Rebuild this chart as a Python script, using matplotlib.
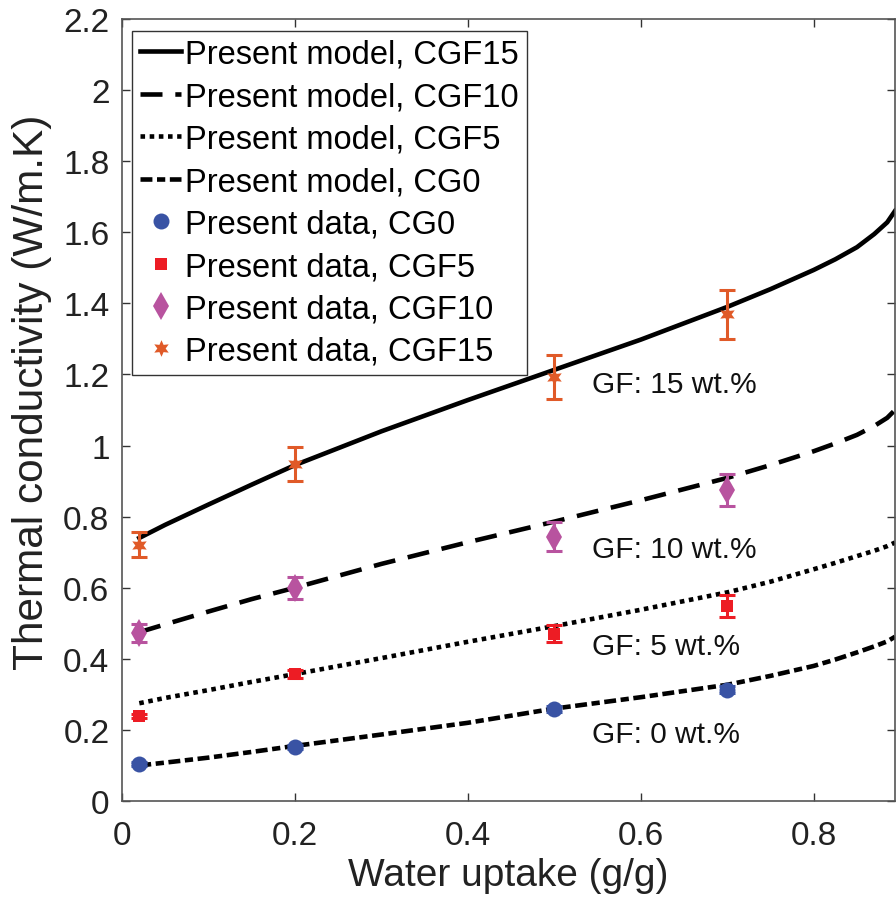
import matplotlib
matplotlib.use('Agg')
import matplotlib.pyplot as plt

plt.rcParams['font.family'] = ['Liberation Sans', 'DejaVu Sans']

# ---------- data ----------
# model curves (water uptake g/g -> thermal conductivity W/m.K)
model_x = [0.02, 0.05, 0.1, 0.15, 0.2, 0.3, 0.4, 0.5, 0.6, 0.7, 0.75, 0.8, 0.825, 0.85, 0.87, 0.885, 0.894]
model_cgf15 = [0.74, 0.777, 0.834, 0.89, 0.945, 1.04, 1.128, 1.213, 1.298, 1.39, 1.44, 1.494,
               1.524, 1.558, 1.595, 1.628, 1.66]
model_cgf10 = [0.475, 0.497, 0.533, 0.568, 0.60, 0.667, 0.728, 0.786, 0.846, 0.909, 0.945, 0.984,
               1.006, 1.03, 1.055, 1.078, 1.10]
model_cgf5 = [0.275, 0.29, 0.312, 0.335, 0.357, 0.402, 0.448, 0.492, 0.538, 0.587, 0.617, 0.652,
              0.670, 0.689, 0.704, 0.717, 0.727]
model_cg0 = [0.10, 0.108, 0.122, 0.138, 0.155, 0.187, 0.22, 0.26, 0.292, 0.327, 0.352, 0.38,
             0.398, 0.418, 0.435, 0.449, 0.462]

# measured data
data_x = [0.02, 0.2, 0.5, 0.7]
data_cg0 = [0.104, 0.152, 0.259, 0.313]
err_cg0 = [0.005, 0.006, 0.008, 0.01]
data_cgf5 = [0.239, 0.357, 0.470, 0.549]
err_cgf5 = [0.006, 0.012, 0.024, 0.03]
data_cgf10 = [0.473, 0.599, 0.744, 0.875]
err_cgf10 = [0.025, 0.03, 0.042, 0.045]
data_cgf15 = [0.721, 0.948, 1.193, 1.370]
err_cgf15 = [0.035, 0.048, 0.062, 0.069]

labels_gf = ['GF: 15 wt.%', 'GF: 10 wt.%', 'GF: 5 wt.%', 'GF: 0 wt.%']
labels_gf_y = [1.151, 0.686, 0.413, 0.166]

x_ticks = [0, 0.2, 0.4, 0.6, 0.8]
x_tick_labels = ['0', '0.2', '0.4', '0.6', '0.8']
y_ticks = [0, 0.2, 0.4, 0.6, 0.8, 1.0, 1.2, 1.4, 1.6, 1.8, 2.0, 2.2]
y_tick_labels = ['0', '0.2', '0.4', '0.6', '0.8', '1', '1.2', '1.4', '1.6', '1.8', '2', '2.2']

c_blue = '#3953a4'
c_red = '#ed1c24'
c_mag = '#b8539f'
c_orange = '#e05a28'

fig = plt.figure(figsize=(8.96, 9.12), dpi=100)
ax = fig.add_axes([122/896, 110/912, (895-122)/896, 782/912])

lw = 3.3
ax.plot(model_x, model_cgf15, color='black', lw=lw, ls='-', label='Present model, CGF15')
ax.plot(model_x, model_cgf10, color='black', lw=lw, ls=(0, (4.8, 2.8)), label='Present model, CGF10')
ax.plot(model_x, model_cgf5, color='black', lw=lw, ls=(0, (1, 1)), label='Present model, CGF5')
ax.plot(model_x, model_cg0, color='black', lw=lw, ls=(0, (2.6, 1.0, 1.8, 1.0)), label='Present model, CG0')

# error bars first (no legend entry), then the markers on top
eb = dict(fmt='none', elinewidth=2.2, capthick=2.2, capsize=6, zorder=4)
ax.errorbar(data_x, data_cg0, yerr=err_cg0, ecolor=c_blue, **eb)
ax.errorbar(data_x, data_cgf5, yerr=err_cgf5, ecolor=c_red, **eb)
ax.errorbar(data_x, data_cgf10, yerr=err_cgf10, ecolor=c_mag, **eb)
ax.errorbar(data_x, data_cgf15, yerr=err_cgf15, ecolor=c_orange, **eb)

mk = dict(ls='none', zorder=5, markeredgewidth=0)
ax.plot(data_x, data_cg0, marker='o', color=c_blue, ms=11.5, label='Present data, CG0', **mk)
ax.plot(data_x, data_cgf5, marker='s', color=c_red, ms=8.5, label='Present data, CGF5', **mk)
ax.plot(data_x, data_cgf10, marker='d', color=c_mag, ms=14, label='Present data, CGF10', **mk)
ax.plot(data_x, data_cgf15, marker=(6, 1, 0), color=c_orange, ms=12, label='Present data, CGF15', **mk)

for lab, yy in zip(labels_gf, labels_gf_y):
    ax.text(0.543, yy, lab, fontsize=21.5, ha='left', va='baseline', color='#111111')

ax.set_xlim(0, 0.894)
ax.set_ylim(0, 2.2)
ax.set_xticks(x_ticks)
ax.set_xticklabels(x_tick_labels)
ax.set_yticks(y_ticks)
ax.set_yticklabels(y_tick_labels)
ax.tick_params(direction='in', length=6, width=1, colors='#333333', labelcolor='#222222',
               labelsize=24, top=True, right=True)
ax.tick_params(axis='x', pad=14)
ax.tick_params(axis='y', pad=9)
for s in ax.spines.values():
    s.set_color('#555555')
    s.set_linewidth(1.2)

ax.set_xlabel('Water uptake (g/g)', fontsize=28, color='#222222', labelpad=4)
ax.set_ylabel('Thermal conductivity (W/m.K)', fontsize=30.5, color='#222222')
ax.yaxis.set_label_coords(-0.09, 0.524)

leg = ax.legend(loc='upper left', bbox_to_anchor=(0.013, 0.985), borderaxespad=0,
                fontsize=23.5, handlelength=1.25, handletextpad=0.12, labelspacing=0.35,
                borderpad=0.25, frameon=True, fancybox=False, framealpha=1)
leg.get_frame().set_edgecolor('#333333')
leg.get_frame().set_linewidth(1.0)

fig.savefig('out.png', dpi=100)
